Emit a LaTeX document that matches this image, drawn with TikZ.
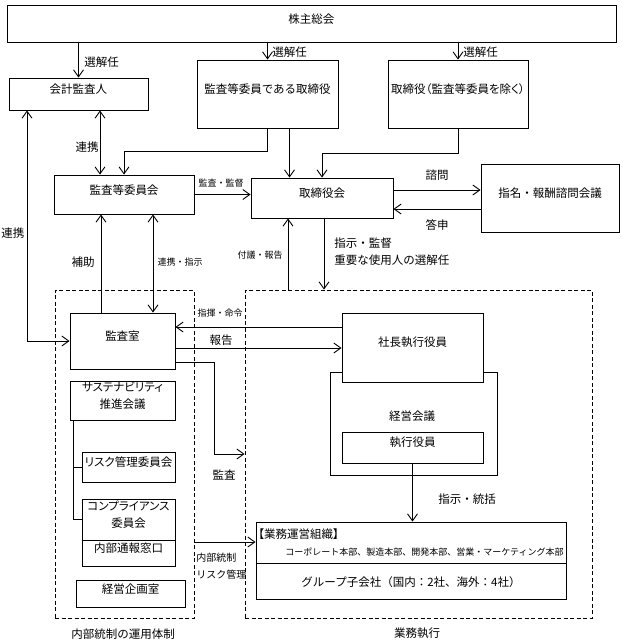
\documentclass[tikz,border=0pt]{standalone}
\usepackage{fontspec}
\setmainfont{Noto Sans CJK JP}
\usetikzlibrary{fit,arrows.meta}

\def\mainfont{\fontsize{11.5}{17}\selectfont}
\def\smallfont{\fontsize{9}{11}\selectfont}
\def\kana{\addfontfeatures{RawFeature=+palt}}

\begin{document}
\begin{tikzpicture}[x=1pt,y=-1pt,
    line width=0.9pt,
    >={Straight Barb[length=7pt,width=10pt]},
    blk/.style={draw, inner sep=0pt, fill=white, font=\mainfont, align=center},
    grp/.style={draw, dash pattern=on 4pt off 2.5pt, inner sep=0pt},
    lbl/.style={font=\mainfont, inner sep=0pt},
    sml/.style={font=\smallfont, inner sep=0pt}]
    \useasboundingbox (0,0) rectangle (622,640);

    % dashed groups
    \node[grp, fit={(55,290) (194,618)}] (naibu) {};
    \node[grp, fit={(245,290) (592,618)}] (shikko) {};
    \node[lbl] at (123,634) {内部統制の運用体制};
    \node[lbl] at (417,633) {業務執行};

    % top row
    \node[blk, fit={(7,5) (616,42)}] (kabu) {株主総会};
    \node[blk, fit={(9,78) (148,110)}] (kaikei) {会計監査人};
    \node[blk, fit={(197,60) (338,128)}] (kansatori) {監査等委員である取締役};
    \node[blk, fit={(388,60) (528,128)}] (tori) {\kana 取締役（監査等委員を除く）};
    \draw[->] (kabu.south -| kaikei.north) -- (kaikei.north);
    \draw[->] (kabu.south -| kansatori.north) -- (kansatori.north);
    \draw[->] (kabu.south -| tori.north) -- (tori.north);
    \node[lbl, anchor=west] at (84,62) {選解任};
    \node[lbl, anchor=west] at (272,52) {選解任};
    \node[lbl, anchor=west] at (463,52) {選解任};

    % committees
    \node[blk, fit={(54,175) (194,214)}] (iinkai) {監査等委員会};
    \node[blk, fit={(251,178) (393,218)}] (torikai) {取締役会};
    \node[blk, fit={(481,164) (619,232)}] (shimei) {指名・報酬諮問会議};
    \draw[<->] (kaikei.south -| 100,0) -- (iinkai.north -| 100,0);
    \draw[->] (kansatori.south) -- ++(0,23) -| (iinkai.north);
    \draw[->] ([xshift=22pt]kansatori.south) -- ([xshift=22pt]kansatori.south |- torikai.north);
    \draw[->] (tori.south) -- ++(0,25) -| (torikai.north);
    \draw[->] (iinkai.east) -- (iinkai.east -| torikai.west);
    \draw[->] (torikai.east |- 0,190) -- (shimei.west |- 0,190);
    \draw[->] (shimei.west |- 0,209) -- (torikai.east |- 0,209);
    \node[lbl] at (87,147) {連携};
    \node[sml] at (221,183) {監査・監督};
    \node[lbl] at (437,175) {諮問};
    \node[lbl] at (437,225) {答申};

    % internal control
    \node[blk, fit={(70,313) (175,369)}] (kansa) {監査室};
    \node[blk, fit={(70,381) (175,420)}] (susu) {\kana サステナビリティ\\推進会議};
    \node[blk, fit={(82,452) (175,482)}] (risk) {\kana リスク管理委員会};
    \node[blk, fit={(82,499) (175,540)}] (compla) {\kana コンプライアンス\\委員会};
    \node[blk, fit={(82,540) (175,566)}] (tsuho) {内部通報窓口};
    \node[blk, fit={(76,580) (185,607)}] (kikaku) {経営企画室};
    \draw ([xshift=4pt]susu.south west) |- (risk.west);
    \draw ([xshift=4pt]susu.south west) |- (compla.west);
    \draw[<->] (kaikei.south -| 27,0) |- (kansa.west);
    \draw[->] (kansa.north -| 101,0) -- (iinkai.south -| 101,0);
    \draw[<->] (iinkai.south -| 153,0) -- (kansa.north -| 153,0);
    \node[lbl] at (13,233) {連携};
    \node[lbl] at (83,262) {補助};
    \node[sml] at (180,262) {連携・指示};

    % execution
    \node[blk, fit={(330,372) (497,475)}] (keiei) {};
    \node[lbl] at (412,416) {経営会議};
    \node[blk, fit={(342,313) (483,382)}] (shacho) {社長執行役員};
    \node[blk, fit={(342,432) (483,463)}] (yakuin) {執行役員};
    \node[blk, fit={(256,522) (566,599)}] (gyomu) {};
    \draw (gyomu.west |- 0,563) -- (gyomu.east |- 0,563);
    \node[lbl, anchor=west] at (258,534) {\kana 【業務運営組織】};
    \node[sml, anchor=east] at (564,552) {コーポレート本部、製造本部、開発本部、営業・マーケティング本部};
    \node[lbl] at (411,582) {グループ子会社（国内：2社、海外：4社）};
    \draw[->] (shikko.north -| 288,0) -- (torikai.south -| 288,0);
    \draw[->] (torikai.south -| 324,0) -- (shikko.north -| 324,0);
    \draw[->] (shacho.west |- 0,327) -- (kansa.east |- 0,327);
    \draw[->] (kansa.east |- 0,348) -- (shacho.west |- 0,348);
    \draw[->] (kansa.east |- 0,362) -| (214,454) -- (shikko.west |- 0,454);
    \draw[->] (yakuin.south) -- (yakuin.south |- gyomu.north);
    \draw[->] (naibu.east |- 0,542) -- (gyomu.west |- 0,542);
    \node[sml] at (260,255) {付議・報告};
    \node[lbl, anchor=west, align=left] at (334,252) {指示・監督\\重要な使用人の選解任};
    \node[sml] at (220,313) {指揮・命令};
    \node[lbl] at (221,340) {報告};
    \node[lbl] at (224,475) {監査};
    \node[inner sep=0pt, anchor=west, align=left, font=\fontsize{10}{17}\selectfont] at (196,566) {内部統制\\リスク管理};
    \node[lbl] at (467,499) {指示・統括};
\end{tikzpicture}
\end{document}
